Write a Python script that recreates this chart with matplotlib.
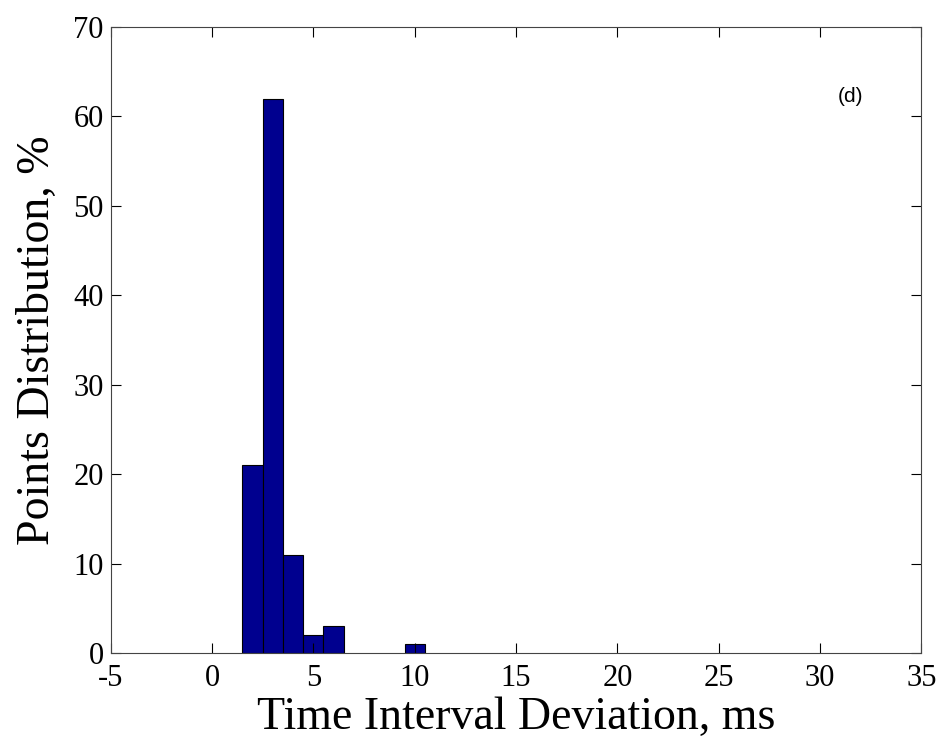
import matplotlib
matplotlib.use('Agg')
import matplotlib.pyplot as plt

plt.rcParams['axes.unicode_minus'] = False

# histogram data
centers = [2, 3, 4, 5, 6, 10]
percent = [21, 62, 11, 2, 3, 1]

x_ticks = [-5, 0, 5, 10, 15, 20, 25, 30, 35]
y_ticks = [0, 10, 20, 30, 40, 50, 60, 70]

bar_color = '#00008F'

fig = plt.figure(figsize=(9.46, 7.49), dpi=100)
ax = fig.add_axes([0.117, 0.128, 0.857, 0.836])

ax.bar(centers, percent, width=1.0, color=bar_color, edgecolor='black', linewidth=0.8)

ax.set_xlim(-5, 35)
ax.set_ylim(0, 70)
ax.set_xticks(x_ticks)
ax.set_xticklabels([str(t) for t in x_ticks])
ax.set_yticks(y_ticks)
ax.tick_params(direction='in', top=True, right=True, length=7, width=0.8,
               labelsize=22)
ax.tick_params(axis='x', pad=8)
ax.tick_params(axis='y', pad=5)
for lab in ax.get_xticklabels() + ax.get_yticklabels():
    lab.set_family('Liberation Serif')
for s in ax.spines.values():
    s.set_linewidth(0.8)
    s.set_color('#444444')

ax.set_xlabel('Time Interval Deviation, ms', fontsize=33, family='Liberation Serif', labelpad=2)
ax.set_ylabel('Points Distribution, %', fontsize=33, family='Liberation Serif', labelpad=10)

ax.text(31.5, 62.2, '(d)', fontsize=15, family='Liberation Sans', ha='center', va='center')

plt.savefig('out.png')
